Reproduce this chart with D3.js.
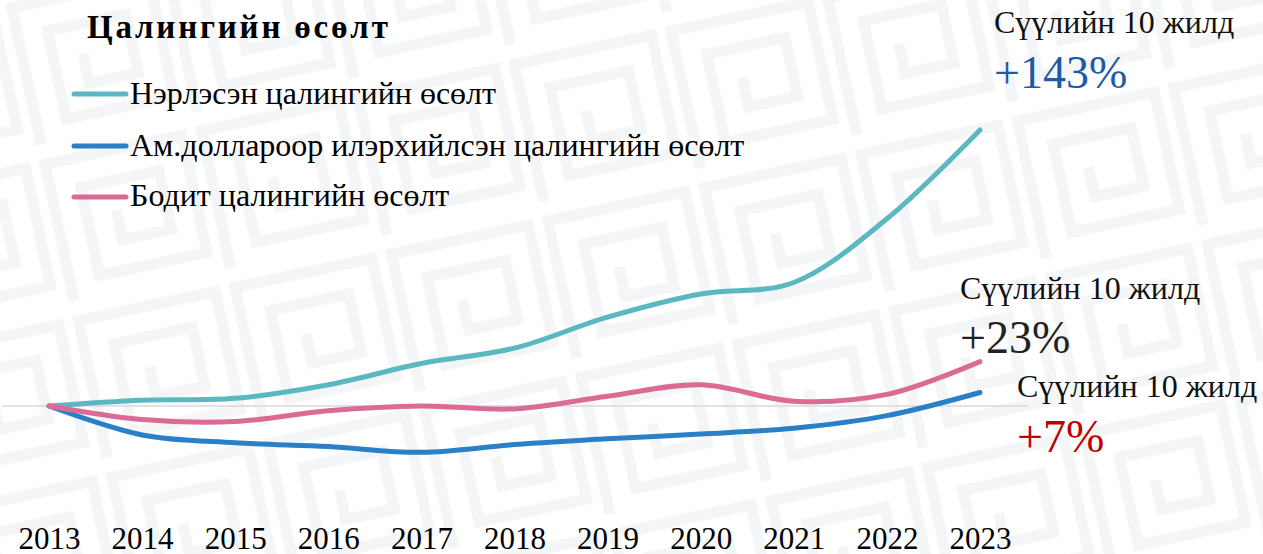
<!DOCTYPE html>
<html><head><meta charset="utf-8">
<script src="https://cdn.jsdelivr.net/npm/d3@7"></script>
<style>html,body{margin:0;padding:0;background:#fff;overflow:hidden}svg{display:block}</style>
</head><body>
<script>
const years = ["2013","2014","2015","2016","2017","2018","2019","2020","2021","2022","2023"];
const nominal = [0, 3, 4, 11, 22, 30, 46, 58, 64, 97, 143];
const usd = [0, -15, -19, -21, -24, -20, -17, -14.5, -11.5, -5, 7];
const real = [0, -7, -8, -2.5, 0, -1.5, 5, 11, 2.5, 6, 23];
const seriesNames = ["Нэрлэсэн цалингийн өсөлт","Ам.доллароор илэрхийлсэн цалингийн өсөлт","Бодит цалингийн өсөлт"];
const colors = ["#5bb8c1","#2a80c8","#db6b95"];
const title = "Цалингийн өсөлт";
const annoLabel = "Сүүлийн 10 жилд";
const annoValues = ["+143%","+23%","+7%"];

const W=1263,H=554;
const svg=d3.select("body").append("svg").attr("width",W).attr("height",H);
const defs=svg.append("defs");
const pat=defs.append("pattern").attr("id","bgp").attr("patternUnits","userSpaceOnUse")
  .attr("width",160).attr("height",160).attr("patternTransform","rotate(-12)");
pat.append("path").attr("d","M10,150 V10 H150 V130 H40 V40 H120 V100 H70 V70")
  .attr("fill","none").attr("stroke","#f3f5f7").attr("stroke-width",11);
svg.append("rect").attr("width",W).attr("height",H).attr("fill","#fff");
svg.append("rect").attr("width",W).attr("height",H).attr("fill","url(#bgp)");

const x=d3.scalePoint().domain(years).range([49,980]);
const y=d3.scaleLinear().domain([-30,150]).range([463.9,116.5]);
const font="'Liberation Serif','Times New Roman',serif";

svg.append("line").attr("x1",2).attr("x2",1028).attr("y1",y(0)).attr("y2",y(0))
  .attr("stroke","#d9d9d9").attr("stroke-width",1.3);

const ax=svg.append("g").attr("transform","translate(0,549)")
  .call(d3.axisBottom(x).tickSize(0).tickPadding(0));
ax.select(".domain").remove();
ax.selectAll("text").attr("font-family",font).attr("font-size",31).attr("fill","#000").attr("dy",0);

const line=d3.line().x((d,i)=>x(years[i])).y(d=>y(d)).curve(d3.curveCatmullRom.alpha(0.5));
const data=[nominal,usd,real];
[1,0,2].forEach(k=>{
  svg.append("path").attr("d",line(data[k])).attr("fill","none").attr("stroke",colors[k])
    .attr("stroke-width",5).attr("stroke-linecap","round").attr("stroke-linejoin","round");
});

svg.append("text").attr("x",87).attr("y",38).text(title).attr("font-family",font)
  .attr("font-weight","bold").attr("font-size",33).attr("letter-spacing","2.8px").attr("fill","#000");

const ly=[94,146,197];
const lb=[104,156,206];
seriesNames.forEach((n,i)=>{
  svg.append("line").attr("x1",74).attr("x2",126).attr("y1",ly[i]).attr("y2",ly[i])
    .attr("stroke",colors[i]).attr("stroke-width",5).attr("stroke-linecap","round");
  svg.append("text").attr("x",130).attr("y",lb[i]).text(n).attr("font-family",font)
    .attr("font-size",32).attr("fill","#000");
});

const ann=[{x:994,y1:33,y2:88,c:"#1f5aa6"},{x:960,y1:299,y2:353,c:"#222"},{x:1017,y1:397,y2:452,c:"#c00000"}];
ann.forEach((a,i)=>{
  svg.append("text").attr("x",a.x).attr("y",a.y1).text(annoLabel).attr("font-family",font)
    .attr("font-size",32).attr("fill","#111");
  svg.append("text").attr("x",a.x).attr("y",a.y2).text(annoValues[i]).attr("font-family",font)
    .attr("font-size",46).attr("fill",a.c);
});
</script>
</body></html>
